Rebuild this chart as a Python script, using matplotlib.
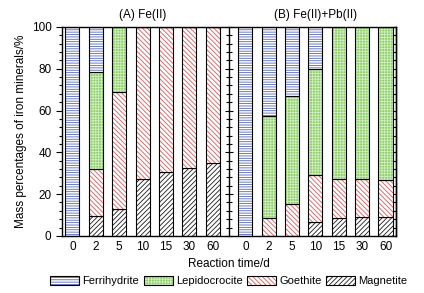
import matplotlib
matplotlib.use("Agg")
import matplotlib.pyplot as plt
import numpy as np
from matplotlib.patches import Patch
from matplotlib.ticker import MultipleLocator

plt.rcParams['font.family'] = ['Liberation Sans', 'DejaVu Sans']
plt.rcParams['hatch.linewidth'] = 0.6

times = ['0', '2', '5', '10', '15', '30', '60']
minerals = ['Ferrihydrite', 'Lepidocrocite', 'Goethite', 'Magnetite']

A_mag = [0, 9.4, 12.8, 27.3, 30.5, 32.4, 34.8]
A_goe = [0, 22.8, 55.9, 72.7, 69.5, 67.6, 65.2]
A_lep = [0, 46.0, 31.3, 0, 0, 0, 0]
A_fer = [100, 21.8, 0, 0, 0, 0, 0]

B_mag = [0, 0, 0, 6.4, 8.5, 9.0, 9.0]
B_goe = [0, 8.5, 15.3, 22.6, 18.7, 18.2, 17.7]
B_lep = [0, 48.7, 51.6, 51.0, 72.8, 72.8, 73.3]
B_fer = [100, 42.8, 33.1, 20.0, 0, 0, 0]

titles = ['(A) Fe(II)', '(B) Fe(II)+Pb(II)']

styles = {
    'Magnetite': dict(face='white', hcol='#1a1a1a', hatch='/' * 7),
    'Goethite': dict(face='white', hcol='#e05858', hatch='\\' * 7),
    'Lepidocrocite': dict(face='#8fcf6a', hcol='#d0eec0', hatch='+' * 6),
    'Ferrihydrite': dict(face='white', hcol='#5468b8', hatch='-' * 7),
}

fig = plt.figure(figsize=(4.24, 2.93), dpi=100)
ax = fig.add_axes([0.146, 0.195, 0.788, 0.713])

xA = np.arange(7)
xB = np.arange(7) + 7.4
width = 0.6

def stack(x, mag, goe, lep, fer):
    bottom = np.zeros(len(x))
    for name, vals in [('Magnetite', mag), ('Goethite', goe),
                       ('Lepidocrocite', lep), ('Ferrihydrite', fer)]:
        vals = np.array(vals, dtype=float)
        st = styles[name]
        ax.bar(x, vals, width, bottom=bottom, color=st['face'],
               edgecolor=st['hcol'], hatch=st['hatch'], linewidth=0)
        ax.bar(x, vals, width, bottom=bottom, fill=False,
               edgecolor='black', linewidth=0.8)
        bottom += vals

stack(xA, A_mag, A_goe, A_lep, A_fer)
stack(xB, B_mag, B_goe, B_lep, B_fer)

ax.set_xlim(-0.45, 13.85)
ax.set_ylim(0, 100)
ax.set_xticks(list(xA) + list(xB))
ax.set_xticklabels(times + times, fontsize=8.5)
ax.tick_params(axis='x', length=0, pad=4)
ax.yaxis.set_major_locator(MultipleLocator(20))
ax.yaxis.set_minor_locator(MultipleLocator(4))
ax.tick_params(axis='y', which='major', direction='out', length=4, labelsize=8.5, width=0.8)
ax.tick_params(axis='y', which='minor', direction='out', length=2.5, width=0.8)

for loc, d, lm, ln in [('right', 'in', 4, 2.5), (0.5, 'inout', 6, 4)]:
    sec = ax.secondary_yaxis(loc)
    sec.yaxis.set_major_locator(MultipleLocator(20))
    sec.yaxis.set_minor_locator(MultipleLocator(4))
    sec.tick_params(which='major', direction=d, length=lm, width=0.8)
    sec.tick_params(which='minor', direction=d, length=ln, width=0.8)
    sec.set_yticklabels([])
    sec.spines[:].set_linewidth(1.0)

for s in ax.spines.values():
    s.set_linewidth(1.0)

ax.text(3, 103, titles[0], ha='center', va='bottom', fontsize=8.5)
ax.text(10.4, 103, titles[1], ha='center', va='bottom', fontsize=8.5)

ax.set_xlabel('Reaction time/d', fontsize=8.5, labelpad=3)
ax.set_ylabel('Mass percentages of iron minerals/%', fontsize=8.5, labelpad=3)

handles = []
for name in minerals:
    st = styles[name]
    p1 = Patch(facecolor=st['face'], edgecolor=st['hcol'], hatch=st['hatch'], linewidth=0)
    p2 = Patch(fill=False, edgecolor='black', linewidth=0.8)
    handles.append((p1, p2))
fig.legend(handles, minerals, loc='center', bbox_to_anchor=(0.54, 0.04), ncol=4,
           frameon=False, fontsize=8, handlelength=2.6, handleheight=0.8,
           handletextpad=0.3, columnspacing=0.4)

fig.savefig('out.png', dpi=100)
